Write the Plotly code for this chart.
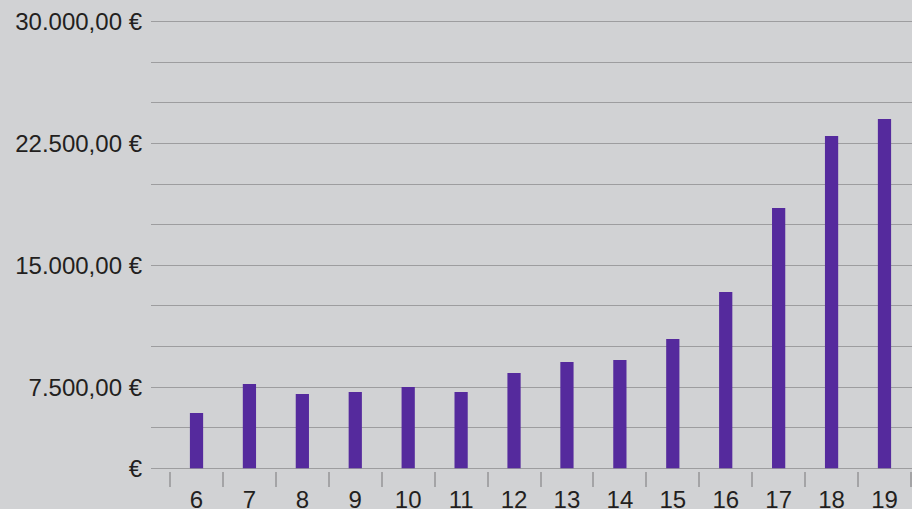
import plotly.graph_objects as go

# Data
categories = ["6", "7", "8", "9", "10", "11", "12", "13", "14", "15", "16", "17", "18", "19"]
values = [3715, 5663, 4991, 5125, 5461, 5125, 6402, 7140, 7275, 8685, 11843, 17485, 22322, 23464]

# Y axis: 11 gridline intervals over 0..30000, labels as printed in the original
y_max = 30000
n_grid = 11
y_label_text = {0: "€", 2: "7.500,00 €", 5: "15.000,00 €", 8: "22.500,00 €", 11: "30.000,00 €"}

y_tickvals = [k * y_max / n_grid for k in range(n_grid + 1)]
y_ticktext = [y_label_text.get(k, "") for k in range(n_grid + 1)]

BG = "#d1d2d4"
GRID = "#9d9d9f"
BAR = "#552a9d"
TEXT = "#231f20"
FONT = "Liberation Sans, Arial, Helvetica, sans-serif"

fig = go.Figure(
    go.Bar(
        x=categories,
        y=values,
        marker=dict(color=BAR, line=dict(width=0)),
        width=0.25,
    )
)

fig.update_layout(
    width=912,
    height=509,
    paper_bgcolor=BG,
    plot_bgcolor=BG,
    margin=dict(l=151, r=0, t=19, b=38, pad=0),
    showlegend=False,
    font=dict(family=FONT, size=24, color=TEXT),
)

fig.update_xaxes(
    type="category",
    range=[-0.86, 13.52],
    automargin=False,
    showgrid=False,
    showline=False,
    zeroline=False,
    ticks="outside",
    tickson="boundaries",
    ticklen=15,
    tickwidth=1.5,
    tickcolor="#a4a4a6",
    ticklabelstandoff=12,
    tickfont=dict(family=FONT, size=24, color=TEXT),
)

fig.update_yaxes(
    range=[-181, y_max + 181],
    automargin=False,
    tickmode="array",
    tickvals=y_tickvals,
    ticktext=y_ticktext,
    showgrid=True,
    gridcolor=GRID,
    gridwidth=1.3,
    zeroline=False,
    showline=False,
    ticks="",
    ticklabelstandoff=8,
    tickfont=dict(family=FONT, size=24, color=TEXT),
)

fig.write_html(
    "out.html",
    config={"displayModeBar": False},
    post_script="document.body.style.margin='0';document.body.style.background='%s';" % BG,
)
